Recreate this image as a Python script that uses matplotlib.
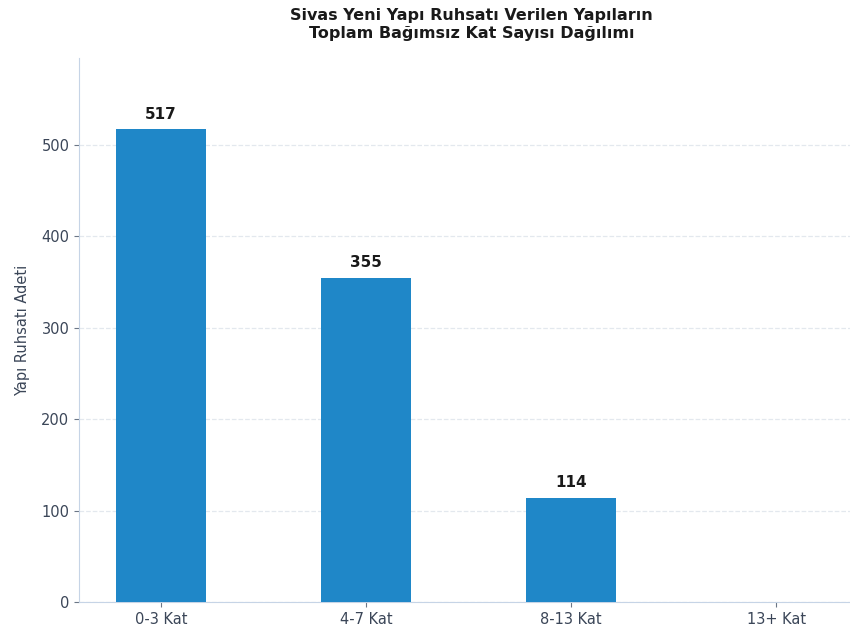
import matplotlib
matplotlib.use("Agg")
from matplotlib import pyplot as plt

plt.rcParams['font.family'] = ['DejaVu Sans']

# data
categories = ["0-3 Kat", "4-7 Kat", "8-13 Kat", "13+ Kat"]
values = [517, 355, 114, 0]

bar_color = "#1f87c8"
text_color = "#3b4658"
spine_color = "#c6d4e6"

fig = plt.figure(figsize=(8.5, 6.36), dpi=100)
ax = fig.add_axes([0.093, 0.0535, 0.907, 0.855])

x = range(len(categories))
bars = ax.bar(x, values, width=0.44, color=bar_color, zorder=3)

# value labels (skip zero)
for b, v in zip(bars, values):
    if v > 0:
        ax.text(b.get_x() + b.get_width() / 2, v + 8, str(v), ha="center", va="bottom",
                fontsize=11, fontweight="bold", color="#1a1a1a")

ax.set_xticks(list(x))
ax.set_xticklabels(categories)
ax.set_xlim(-0.4, 3.36)
ax.set_ylim(0, 595)
ax.set_yticks([0, 100, 200, 300, 400, 500])

ax.grid(axis="y", linestyle="--", color="#e3e8ee", linewidth=0.9, zorder=0)
for s in ["top", "right"]:
    ax.spines[s].set_visible(False)
for s in ["left", "bottom"]:
    ax.spines[s].set_color(spine_color)
ax.tick_params(axis="both", colors="#6b7686", labelcolor=text_color, labelsize=10.5)

ax.set_ylabel("Yapı Ruhsatı Adeti", fontsize=10.5, color=text_color, labelpad=8)
fig.suptitle("Sivas Yeni Yapı Ruhsatı Verilen Yapıların\nToplam Bağımsız Kat Sayısı Dağılımı",
             fontsize=11.5, fontweight="bold", color="#1a1a1a", y=0.988, x=0.555,
             linespacing=1.3)

fig.savefig("out.png", dpi=100)
